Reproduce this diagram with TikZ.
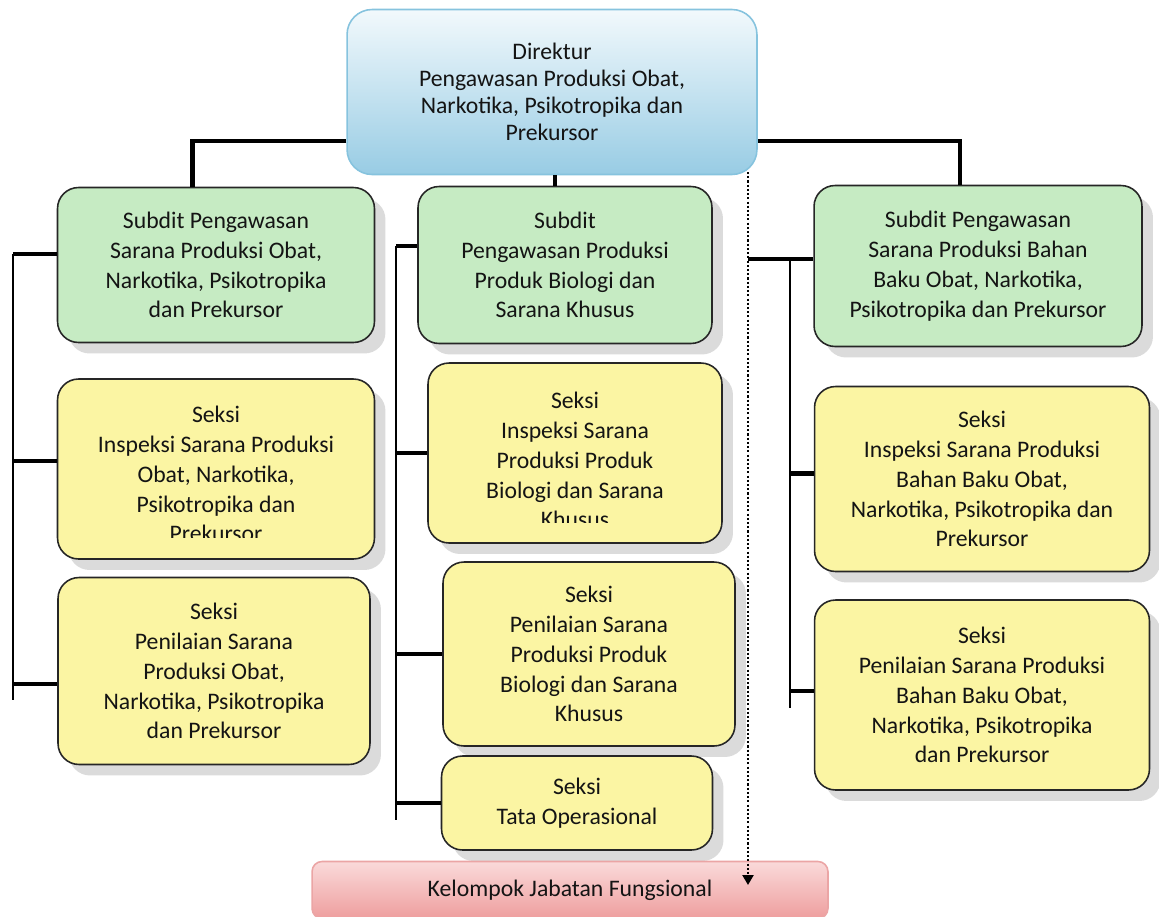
\documentclass[tikz,border=0pt]{standalone}
\usepackage{fontspec}
\setmainfont{Carlito}
\usetikzlibrary{shadows,arrows.meta}
\definecolor{dirtop}{HTML}{F2F9FC}
\definecolor{dirbot}{HTML}{98CCE4}
\definecolor{dirline}{HTML}{86C3DE}
\definecolor{subgreen}{HTML}{C6EBC3}
\definecolor{seksiyellow}{HTML}{FBF5A3}
\definecolor{kjftop}{HTML}{FADADA}
\definecolor{kjfbot}{HTML}{EE9E9E}
\definecolor{kjfline}{HTML}{EBA5A5}
\begin{document}
\begin{tikzpicture}[x=0.02cm, y=-0.02cm, >={Triangle[width=0.22cm, length=0.2cm]},
  font=\fontsize{13.5}{17}\selectfont, text=black!92,
  box/.style={draw=black!85, line width=0.9pt, rounded corners=0.42cm, align=center, inner sep=0pt,
    drop shadow={shadow xshift=0.22cm, shadow yshift=-0.22cm, fill=black!28}},
  subdit/.style={box, fill=subgreen},
  seksi/.style={box, fill=seksiyellow},
  link/.style={line width=2.6pt},
  rail/.style={line width=0.9pt}]
  \useasboundingbox (0,0) rectangle (1159,916);

  \node [draw=dirline, line width=0.9pt, rounded corners=0.5cm, top color=dirtop, bottom color=dirbot,
    minimum width=8.2cm, minimum height=3.3cm, align=center, font=\fontsize{13.5}{15.5}\selectfont]
    (dir) at (552,92) {Direktur\\Pengawasan Produksi Obat,\\Narkotika, Psikotropika dan\\Prekursor};

  \node [subdit, minimum width=6.34cm, minimum height=3.1cm] (sub1) at (216,265)
    {Subdit Pengawasan\\Sarana Produksi Obat,\\Narkotika, Psikotropika\\dan Prekursor};
  \node [subdit, minimum width=5.88cm, minimum height=3.14cm] (sub2) at (565,265)
    {Subdit\\Pengawasan Produksi\\Produk Biologi dan\\Sarana Khusus};
  \node [subdit, minimum width=6.56cm, minimum height=3.22cm] (sub3) at (978,266)
    {Subdit Pengawasan\\Sarana Produksi Bahan\\Baku Obat, Narkotika,\\Psikotropika dan Prekursor};

  \node [seksi, minimum width=6.34cm, minimum height=3.6cm] (lsk1) at (216,469) {};
  \begin{scope}
    \clip ([yshift=0.44cm]lsk1.south west) rectangle (lsk1.north east);
    \node [align=center] (lsk1t) at (216,474)
      {Seksi\\Inspeksi Sarana Produksi\\Obat, Narkotika,\\Psikotropika dan\\Prekursor};
  \end{scope}
  \node [seksi, minimum width=6.24cm, minimum height=3.74cm] (lsk2) at (214,671)
    {Seksi\\Penilaian Sarana\\Produksi Obat,\\Narkotika, Psikotropika\\dan Prekursor};

  \node [seksi, minimum width=5.88cm, minimum height=3.6cm] (msk1) at (575,453) {};
  \begin{scope}
    \clip ([yshift=0.42cm]msk1.south west) rectangle (msk1.north east);
    \node [align=center] (msk1t) at (575,460)
      {Seksi\\Inspeksi Sarana\\Produksi Produk\\Biologi dan Sarana\\Khusus};
  \end{scope}
  \node [seksi, minimum width=5.84cm, minimum height=3.68cm] (msk2) at (589,654)
    {Seksi\\Penilaian Sarana\\Produksi Produk\\Biologi dan Sarana\\Khusus};
  \node [seksi, minimum width=5.42cm, minimum height=1.88cm] (msk3) at (577,803)
    {Seksi\\Tata Operasional};

  \node [seksi, minimum width=6.7cm, minimum height=3.7cm] (rsk1) at (982,479)
    {Seksi\\Inspeksi Sarana Produksi\\Bahan Baku Obat,\\Narkotika, Psikotropika dan\\Prekursor};
  \node [seksi, minimum width=6.7cm, minimum height=3.8cm] (rsk2) at (982,695)
    {Seksi\\Penilaian Sarana Produksi\\Bahan Baku Obat,\\Narkotika, Psikotropika\\dan Prekursor};

  \node [draw=kjfline, line width=0.9pt, rounded corners=0.2cm, top color=kjftop, bottom color=kjfbot,
    minimum width=10.32cm, minimum height=1.14cm] (kjf) at (570,890) {Kelompok Jabatan Fungsional};

  \draw [link] ([yshift=-0.98cm]dir.west) -| ([xshift=-0.47cm]sub1.north);
  \draw [link] ([yshift=-0.98cm]dir.east) -| ([xshift=-0.36cm]sub3.north);
  \draw [link] ([xshift=0.06cm]dir.south) -- ([xshift=0.06cm]dir.south |- sub2.north);

  \coordinate (lt) at (13,254);
  \coordinate (lb) at (13,700);
  \draw [rail] (lt) -- (lb);
  \draw [link] (lt) -- (lt -| sub1.west);
  \draw [link] ([yshift=0.16cm]lsk1.west -| lt) -- ([yshift=0.16cm]lsk1.west);
  \draw [link] ([yshift=-0.26cm]lsk2.west -| lt) -- ([yshift=-0.26cm]lsk2.west);

  \coordinate (mt) at (396,246);
  \coordinate (mb) at (396,820);
  \draw [rail] (mt) -- (mb);
  \draw [link] (mt) -- (mt -| sub2.west);
  \draw [link] (msk1.west -| mt) -- (msk1.west);
  \draw [link] (msk2.west -| mt) -- (msk2.west);
  \draw [link] (msk3.west -| mt) -- (msk3.west);

  \coordinate (dt) at (748,172);
  \coordinate (rt) at (790,259);
  \coordinate (rb) at (790,708);
  \draw [link] (dt |- rt) -- (rt -| sub3.west);
  \draw [rail] (rt) -- (rb);
  \draw [link] ([yshift=0.11cm]rsk1.west -| rt) -- ([yshift=0.11cm]rsk1.west);
  \draw [link] ([yshift=0.08cm]rsk2.west -| rt) -- ([yshift=0.08cm]rsk2.west);

  \draw [->, line width=1.3pt, dash pattern=on 1.2pt off 1.2pt] (dt) -- ([yshift=0.1cm]dt |- kjf);
\end{tikzpicture}
\end{document}
